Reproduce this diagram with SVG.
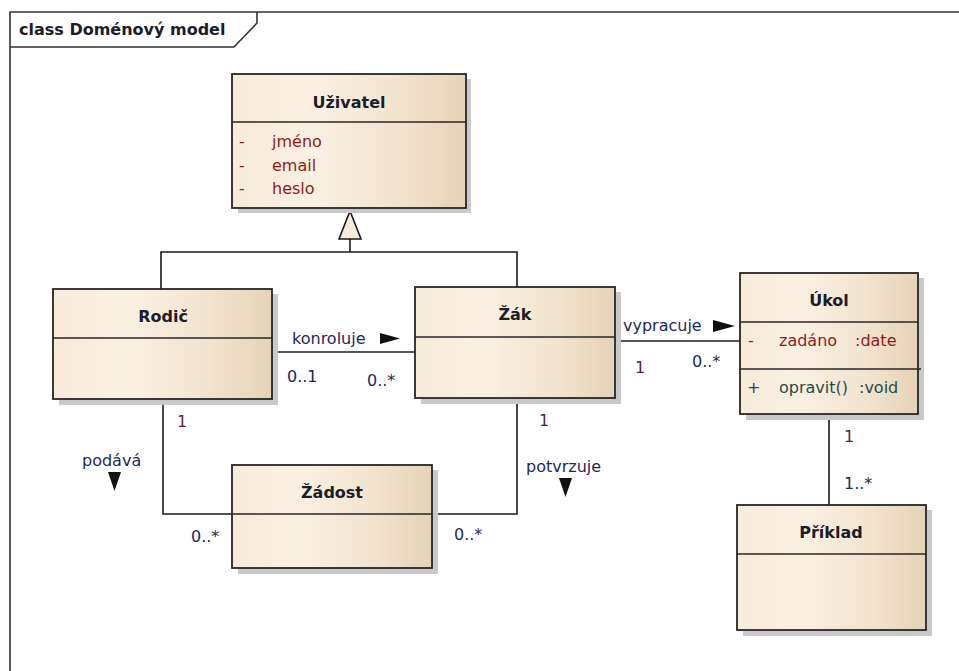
<svg xmlns="http://www.w3.org/2000/svg" width="959" height="671" viewBox="0 0 959 671">
  <defs>
    <linearGradient id="boxFill" x1="0" y1="0" x2="1" y2="0">
      <stop offset="0" stop-color="#f7ebd9"/>
      <stop offset="0.35" stop-color="#faf0e2"/>
      <stop offset="0.7" stop-color="#f2e4cf"/>
      <stop offset="1" stop-color="#e6d3b7"/>
    </linearGradient>
  </defs>
  <style>
    text { font-family: "DejaVu Sans", Tahoma, Verdana, sans-serif; font-size: 16px; }
    .frame { fill: none; stroke: #333; stroke-width: 1.6; }
    .shadow { fill: #c9c9c9; }
    .box { fill: url(#boxFill); stroke: #262626; stroke-width: 1.8; }
    .div { stroke: #262626; stroke-width: 1.6; }
    .name { font-weight: bold; fill: #1c1c2a; text-anchor: middle; }
    .title { font-weight: bold; fill: #1c1c2a; }
    .attr { fill: #8e1c22; }
    .oper { fill: #1f4d4d; }
    .lbl { fill: #1e2a55; }
    .mult { fill: #1e2a55; }
    .one { fill: #5a1f45; }
    .conn { fill: none; stroke: #1a1a1a; stroke-width: 1.6; }
    .dir { fill: #111; }
  </style>

  <rect width="959" height="671" fill="#ffffff"/>

  <!-- diagram frame with title tab -->
  <g id="frame">
    <path class="frame" d="M10,671 V12 H959"/>
    <path class="frame" d="M10,47 H234 L257,23 V12"/>
    <text class="title" x="19" y="35">class Doménový model</text>
  </g>

  <!-- connectors -->
  <g id="connectors">
    <!-- generalization Rodič / Žák -> Uživatel -->
    <path class="conn" d="M161,289 V252 H517 V287"/>
    <path class="conn" d="M350,252 V239"/>
    <polygon points="350,211 361,239 339,239" fill="#f7ecdc" stroke="#1a1a1a" stroke-width="1.6"/>

    <!-- Rodič - Žák : konroluje -->
    <path class="conn" d="M272,352 H415"/>
    <text class="lbl" x="292" y="344">konroluje</text>
    <polygon class="dir" points="380,333 400,338.5 380,344"/>
    <text class="mult" x="287" y="382">0..1</text>
    <text class="mult" x="367" y="386">0..*</text>

    <!-- Žák - Úkol : vypracuje -->
    <path class="conn" d="M615,341 H740"/>
    <text class="lbl" x="623" y="331">vypracuje</text>
    <polygon class="dir" points="713,320 735,326 713,332"/>
    <text class="one" x="635" y="373">1</text>
    <text class="mult" x="692" y="367">0..*</text>

    <!-- Úkol - Příklad -->
    <path class="conn" d="M829,414 V505"/>
    <text class="one" x="844" y="442">1</text>
    <text class="mult" x="844" y="489">1..*</text>

    <!-- Rodič - Žádost : podává -->
    <path class="conn" d="M163,399 V514 H232"/>
    <text class="one" x="177" y="427">1</text>
    <text class="lbl" x="82" y="466">podává</text>
    <polygon class="dir" points="108,472 121,472 114.5,491"/>
    <text class="mult" x="191" y="542">0..*</text>

    <!-- Žák - Žádost : potvrzuje -->
    <path class="conn" d="M517,398 V514 H432"/>
    <text class="one" x="539" y="426">1</text>
    <text class="lbl" x="526" y="472">potvrzuje</text>
    <polygon class="dir" points="559,478 572,478 565.5,497"/>
    <text class="mult" x="454" y="540">0..*</text>
  </g>

  <!-- Uživatel -->
  <g id="uzivatel">
    <rect class="shadow" x="238" y="79" width="233" height="134"/>
    <rect class="box" x="232" y="74" width="234" height="134"/>
    <line class="div" x1="232" y1="122" x2="466" y2="122"/>
    <text class="name" x="349" y="108">Uživatel</text>
    <text class="attr" x="239" y="147">-</text>
    <text class="attr" x="272" y="147">jméno</text>
    <text class="attr" x="239" y="171">-</text>
    <text class="attr" x="272" y="171">email</text>
    <text class="attr" x="239" y="194">-</text>
    <text class="attr" x="272" y="194">heslo</text>
  </g>

  <!-- Rodič -->
  <g id="rodic">
    <rect class="shadow" x="59" y="294" width="219" height="111"/>
    <rect class="box" x="53" y="289" width="219" height="110"/>
    <line class="div" x1="53" y1="338" x2="272" y2="338"/>
    <text class="name" x="163" y="322">Rodič</text>
  </g>

  <!-- Žák -->
  <g id="zak">
    <rect class="shadow" x="421" y="292" width="200" height="112"/>
    <rect class="box" x="415" y="287" width="200" height="111"/>
    <line class="div" x1="415" y1="337" x2="615" y2="337"/>
    <text class="name" x="515" y="320">Žák</text>
  </g>

  <!-- Úkol -->
  <g id="ukol">
    <rect class="shadow" x="746" y="278" width="178" height="142"/>
    <rect class="box" x="740" y="273" width="178" height="141"/>
    <line class="div" x1="740" y1="322" x2="918" y2="322"/>
    <line class="div" x1="740" y1="369" x2="921" y2="369"/>
    <text class="name" x="829" y="306">Úkol</text>
    <text class="attr" x="748" y="346">-</text>
    <text class="attr" x="779" y="346">zadáno</text>
    <text class="attr" x="855" y="346">:date</text>
    <text class="oper" x="747" y="393">+</text>
    <text class="oper" x="779" y="393">opravit()</text>
    <text class="oper" x="859" y="393">:void</text>
  </g>

  <!-- Příklad -->
  <g id="priklad">
    <rect class="shadow" x="743" y="510" width="189" height="126"/>
    <rect class="box" x="737" y="505" width="189" height="125"/>
    <line class="div" x1="737" y1="554" x2="926" y2="554"/>
    <text class="name" x="831" y="538">Příklad</text>
  </g>

  <!-- Žádost -->
  <g id="zadost">
    <rect class="shadow" x="238" y="470" width="200" height="104"/>
    <rect class="box" x="232" y="465" width="200" height="103"/>
    <line class="div" x1="232" y1="514" x2="432" y2="514"/>
    <text class="name" x="332" y="498">Žádost</text>
  </g>
</svg>
